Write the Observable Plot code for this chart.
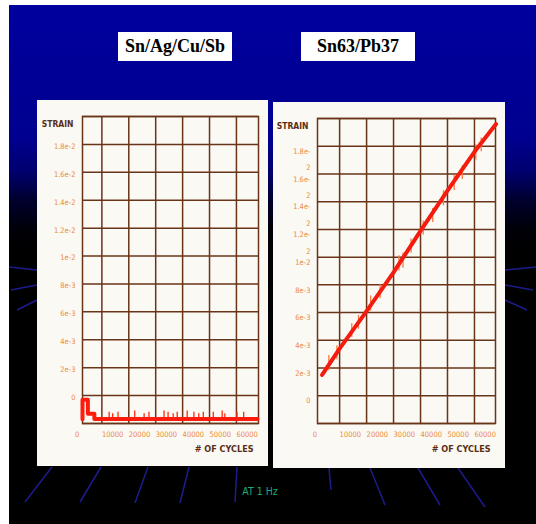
<!DOCTYPE html>
<html><head><meta charset="utf-8">
<script src="https://cdn.jsdelivr.net/npm/d3@7"></script>
<script src="https://cdn.jsdelivr.net/npm/@observablehq/plot@0.6"></script>
<style>
html,body{margin:0;padding:0;background:#fff;width:536px;height:524px;overflow:hidden}
#slide{position:absolute;left:9px;top:5px;width:527px;height:519px;overflow:hidden;
 background:linear-gradient(to bottom,#00009e 0px,#00008f 135px,#00006c 168px,#00002c 196px,#000008 225px,#000 245px)}
#decor{position:absolute;left:0;top:0}
.card{position:absolute;background:#fbf9f4}
.card svg{display:block;overflow:visible}
.tbox{position:absolute;width:114px;height:29px;background:#fff;color:#000;
 font:bold 18px "Liberation Serif","Times New Roman",serif;display:flex;align-items:center;justify-content:center}
#hz{position:absolute;left:211px;top:480px;width:80px;text-align:center;color:#1fa878;
 font:10.5px "Liberation Sans Narrow","DejaVu Sans Condensed",sans-serif}
</style></head>
<body>
<div id="slide">
 <svg id="decor" width="527" height="519">
  <g stroke="#1c1c8c" stroke-width="1.5" fill="none">
   <line x1="43" y1="462" x2="16" y2="497"/>
   <line x1="92" y1="462" x2="71" y2="497"/>
   <line x1="139" y1="462" x2="126" y2="498"/>
   <line x1="180" y1="462" x2="171" y2="498"/>
   <line x1="228" y1="462" x2="226" y2="497"/>
   <line x1="320" y1="463" x2="322" y2="485"/>
   <line x1="361" y1="463" x2="376" y2="500"/>
   <line x1="409" y1="463" x2="431" y2="500"/>
   <line x1="449" y1="463" x2="476" y2="502"/>
   <line x1="28" y1="265" x2="0" y2="262"/>
   <line x1="28" y1="280" x2="2" y2="285"/>
   <line x1="28" y1="295" x2="8" y2="305"/>
   <line x1="496" y1="265" x2="527" y2="262"/>
   <line x1="496" y1="280" x2="524" y2="285"/>
   <line x1="496" y1="295" x2="518" y2="305"/>
  </g>
 </svg>
 <div class="tbox" style="left:109px;top:27px">Sn/Ag/Cu/Sb</div>
 <div class="tbox" style="left:292px;top:27px">Sn63/Pb37</div>
 <div class="card" id="left" style="left:28px;top:95px;width:231px;height:366px"></div>
 <div class="card" id="right" style="left:264px;top:97px;width:232px;height:366px"></div>
 <div id="hz">AT 1 Hz</div>
</div>
<script>
// ---- data ----
const cycleTicks = [0, 10000, 20000, 30000, 40000, 50000, 60000];
const cycleTickLabels = ["0", "10000", "20000", "30000", "40000", "50000", "60000"];
const cycleGrid = [10000, 20000, 30000, 40000, 50000, 60000];
const strainGrid = [-0.002, 0, 0.002, 0.004, 0.006, 0.008, 0.01, 0.012, 0.014, 0.016, 0.018, 0.02];
const strainTicks = [0, 0.002, 0.004, 0.006, 0.008, 0.01, 0.012, 0.014, 0.016, 0.018];
const leftStrainLabels = ["0", "2e-3", "4e-3", "6e-3", "8e-3", "1e-2", "1.2e-2", "1.4e-2", "1.6e-2", "1.8e-2"];
const rightStrainLabels = ["0", "2e-3", "4e-3", "6e-3", "8e-3", "1e-2", "1.2e-\n2", "1.4e-\n2", "1.6e-\n2", "1.8e-\n2"];

// Sn/Ag/Cu/Sb
const snagCycles = [2800, 2800, 4800, 4800, 7200, 7200, 67800];
const snagStrain = [-0.0017, -0.0003, -0.0003, -0.0013, -0.0013, -0.00168, -0.00168];
const snagSpikeCycles = [12700, 14000, 16000, 22200, 25700, 27500, 33100, 34600, 36500, 38000, 41700, 44200, 46000, 47700, 51400, 54700, 55700, 60200, 62700];
const snagSpikeLow = [-0.0017, -0.0017, -0.0017, -0.0017, -0.0017, -0.0017, -0.0017, -0.0017, -0.0017, -0.0017, -0.0017, -0.0017, -0.0017, -0.0017, -0.0017, -0.0017, -0.0017, -0.0017, -0.0017];
const snagSpikeHigh = [-0.0012, -0.0013, -0.0012, -0.0011, -0.0013, -0.0012, -0.0011, -0.0012, -0.0013, -0.0012, -0.0011, -0.0012, -0.0013, -0.0012, -0.0012, -0.0011, -0.0013, -0.0012, -0.0012];

// Sn63/Pb37
const snpbCycles = [3500, 10000, 20000, 30000, 40000, 50000, 60000, 68000];
const snpbStrain = [0.0015, 0.0034, 0.0061, 0.0089, 0.0119, 0.0148, 0.0176, 0.0196];
const snpbSpikeCycles = [6000, 9000, 14500, 17000, 21500, 25000, 32000, 33500, 36500, 41000, 44500, 48500, 52500, 55500, 60500, 62500];
const snpbSpikeLow = [0.0018, 0.0026, 0.0042, 0.0048, 0.0061, 0.0070, 0.0090, 0.0092, 0.0103, 0.0116, 0.0125, 0.0137, 0.0148, 0.0156, 0.0170, 0.0176];
const snpbSpikeHigh = [0.0029, 0.0036, 0.0052, 0.0058, 0.0072, 0.0080, 0.0101, 0.0103, 0.0113, 0.0126, 0.0135, 0.0148, 0.0159, 0.0166, 0.0181, 0.0186];

// ---- drawing ----
const gridColor = "#6a3418";
const tickColor = "#ec8a3c";
const titleColor = "#5a2e16";
const narrow = "'Liberation Sans Narrow','DejaVu Sans Condensed',sans-serif";

function panel({width, height, margins, xDomain, yLabels, wrapped, cycles, strain, spikeX, spikeLo, spikeHi, lineColor, spikeColor}) {
  const line = cycles.map((c, i) => ({c, s: strain[i]}));
  const spikes = spikeX.map((c, i) => ({c, lo: spikeLo[i], hi: spikeHi[i]}));
  const yl = strainTicks.map((v, i) => ({v, t: yLabels[i]}));
  const xl = cycleTicks.map((v, i) => ({v, t: cycleTickLabels[i]}));
  return Plot.plot({
    width, height,
    marginLeft: margins[0], marginRight: margins[1], marginTop: margins[2], marginBottom: margins[3],
    x: {domain: xDomain, axis: null},
    y: {domain: [-0.002, 0.02], axis: null},
    style: {background: "transparent", fontFamily: narrow, overflow: "visible"},
    marks: [
      Plot.ruleY(strainGrid, {stroke: gridColor, strokeWidth: 1.5}),
      Plot.ruleX(cycleGrid, {stroke: gridColor, strokeWidth: 1.5}),
      Plot.frame({stroke: gridColor, strokeWidth: 1.5}),
      Plot.ruleX(spikes, {x: "c", y1: "lo", y2: "hi", stroke: spikeColor, strokeWidth: 1.3}),
      Plot.line(line, {x: "c", y: "s", stroke: lineColor, strokeWidth: 4, curve: "linear"}),
      wrapped
        ? Plot.text(yl, {y: "v", text: "t", frameAnchor: "left", textAnchor: "end", lineAnchor: "top", dx: -7, dy: -4, lineHeight: 2.2, fill: tickColor, fontSize: 7.5})
        : Plot.text(yl, {y: "v", text: "t", frameAnchor: "left", textAnchor: "end", dx: -7, dy: 2, fill: tickColor, fontSize: 7.5}),
      Plot.text(xl, {x: "v", text: "t", frameAnchor: "bottom", textAnchor: "start", dy: 13, fill: tickColor, fontSize: 7.5}),
      Plot.text(["STRAIN"], {frameAnchor: "top-left", textAnchor: "end", dx: -9, dy: 4, fill: titleColor, fontSize: 8.5, fontWeight: "bold"}),
      Plot.text(["# OF CYCLES"], {frameAnchor: "bottom-right", textAnchor: "end", dx: -5, dy: 28, fill: titleColor, fontSize: 9, fontWeight: "bold"})
    ]
  });
}

document.getElementById("left").append(panel({
  width: 231, height: 366, margins: [45, 10, 16, 43], xDomain: [2800, 68200],
  yLabels: leftStrainLabels, wrapped: false,
  cycles: snagCycles, strain: snagStrain, spikeX: snagSpikeCycles, spikeLo: snagSpikeLow, spikeHi: snagSpikeHigh,
  lineColor: "#ff1c0c", spikeColor: "#ff2a10"
}));
document.getElementById("right").append(panel({
  width: 232, height: 366, margins: [44, 10, 16, 45], xDomain: [1800, 67800],
  yLabels: rightStrainLabels, wrapped: true,
  cycles: snpbCycles, strain: snpbStrain, spikeX: snpbSpikeCycles, spikeLo: snpbSpikeLow, spikeHi: snpbSpikeHigh,
  lineColor: "#f41c0e", spikeColor: "#f87a48"
}));
</script>
</body></html>
